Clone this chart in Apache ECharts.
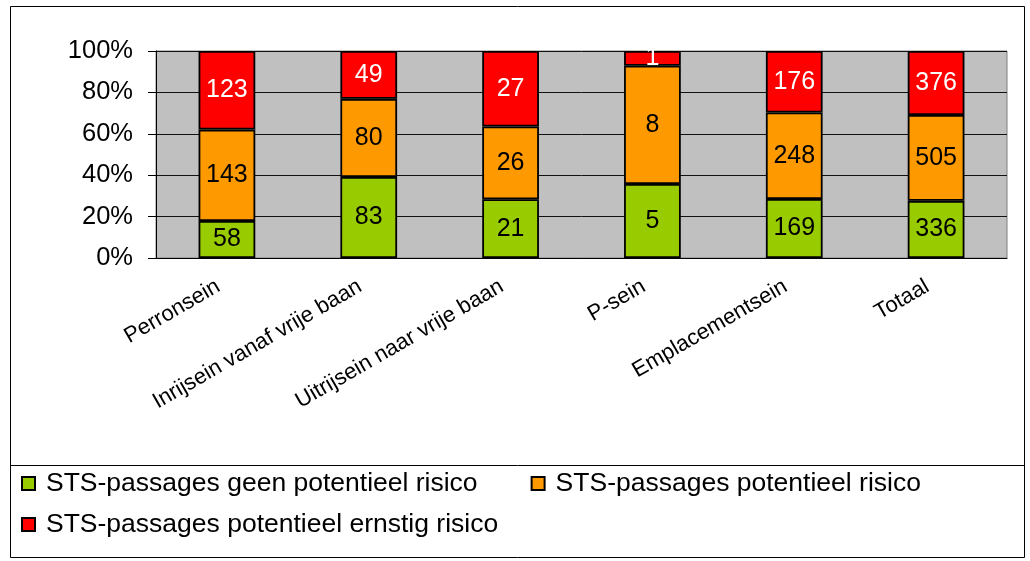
<!DOCTYPE html>
<html>
<head>
<meta charset="utf-8">
<script src="https://cdn.jsdelivr.net/npm/echarts@6/dist/echarts.min.js"></script>
<style>
  html, body { margin: 0; padding: 0; background: #fff; }
  #chart { width: 1030px; height: 561px; }
</style>
</head>
<body>
<div id="chart"></div>
<script>
  const categories = ['Perronsein', 'Inrijsein vanaf vrije baan', 'Uitrijsein naar vrije baan', 'P-sein', 'Emplacementsein', 'Totaal']
  const geenRisico = [58, 83, 21, 5, 169, 336]
  const potentieelRisico = [143, 80, 26, 8, 248, 505]
  const ernstigRisico = [123, 49, 27, 1, 176, 376]
  const seriesNames = ['STS-passages geen potentieel risico', 'STS-passages potentieel risico', 'STS-passages potentieel ernstig risico']
  const yTicks = [0, 20, 40, 60, 80, 100]

  const font = 'Liberation Sans, Arial, sans-serif'
  const totals = categories.map((c, i) => geenRisico[i] + potentieelRisico[i] + ernstigRisico[i])
  const pct = arr => arr.map((v, i) => v / totals[i] * 100)

  const makeSeries = (name, raw, color, labelColor) => ({
    name: name,
    type: 'bar',
    stack: 'all',
    barWidth: '40%',
    data: pct(raw),
    itemStyle: { color: color, borderColor: '#000', borderWidth: 1.8 },
    label: {
      show: true,
      position: 'inside',
      color: labelColor,
      fontFamily: font,
      fontSize: 25,
      formatter: p => raw[p.dataIndex]
    }
  })

  // shared legend look, two legends so the rows sit like the original
  const legendBase = {
    padding: 0,
    itemWidth: 13, itemHeight: 13,
    itemGap: 53,
    icon: 'rect',
    textStyle: { fontSize: 26.5, color: '#000', fontFamily: font, padding: [0, 0, 0, 6] }
  }

  const chart = echarts.init(document.getElementById('chart'))
  chart.setOption({
    animation: false,
    textStyle: { fontFamily: font },
    grid: {
      left: 156, right: 23, top: 51, bottom: 303,
      show: true, backgroundColor: '#c0c0c0', borderColor: '#808080', borderWidth: 1
    },
    xAxis: {
      type: 'category',
      data: categories,
      axisLine: { lineStyle: { color: '#000', width: 1 } },
      axisTick: { length: 6, lineStyle: { color: '#000' } },
      axisLabel: {
        rotate: 30, margin: 22, color: '#000', fontSize: 22, fontFamily: font,
        padding: [0, 10, 0, 0]
      }
    },
    yAxis: {
      type: 'value',
      min: yTicks[0],
      max: yTicks[yTicks.length - 1],
      interval: 20,
      axisLine: { show: true, lineStyle: { color: '#000' } },
      axisTick: { show: true, length: 8, lineStyle: { color: '#000' } },
      axisLabel: { color: '#000', fontSize: 25.5, margin: 23, formatter: '{value}%', fontFamily: font },
      splitLine: { lineStyle: { color: '#111', width: 1 } }
    },
    legend: [
      Object.assign({}, legendBase, { data: seriesNames.slice(0, 2), left: 21, top: 470 }),
      Object.assign({}, legendBase, { data: seriesNames.slice(2), left: 21, top: 511 })
    ],
    graphic: [
      { type: 'rect', shape: { x: 10.5, y: 6.5, width: 1014, height: 551 }, style: { fill: 'none', stroke: '#000', lineWidth: 1 }, silent: true },
      { type: 'line', shape: { x1: 10, y1: 465.5, x2: 1025, y2: 465.5 }, style: { stroke: '#000', lineWidth: 1 }, silent: true }
    ],
    series: [
      makeSeries(seriesNames[0], geenRisico, '#99cc00', '#000'),
      makeSeries(seriesNames[1], potentieelRisico, '#ff9900', '#000'),
      makeSeries(seriesNames[2], ernstigRisico, '#ff0000', '#fff')
    ]
  })
</script>
</body>
</html>
